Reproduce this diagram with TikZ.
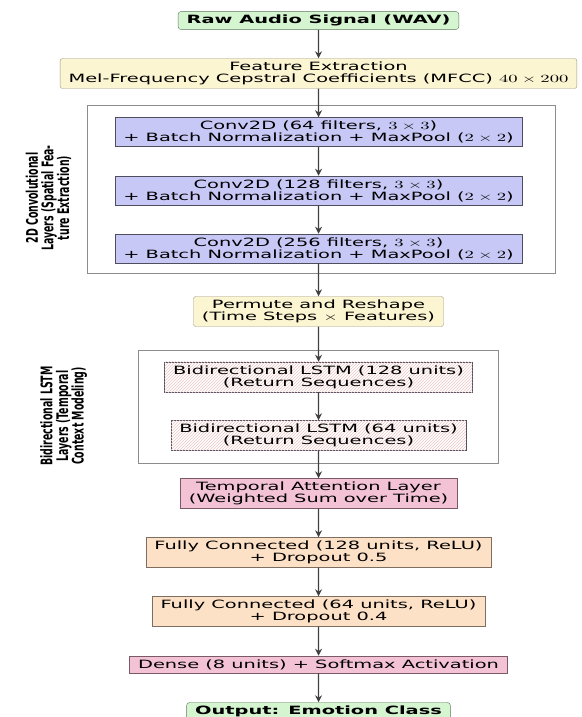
\documentclass[tikz,border=0pt]{standalone}
\usepackage{fontspec}
\setmainfont{DejaVu Sans}
\usetikzlibrary{arrows.meta,patterns}

\definecolor{iofill}{HTML}{D4F5CF}
\definecolor{ioedge}{HTML}{5E7A5E}
\definecolor{prepfill}{HTML}{FCF5D2}
\definecolor{prepedge}{HTML}{9C9A88}
\definecolor{convfill}{HTML}{C8C8F7}
\definecolor{convedge}{HTML}{4E4E5E}
\definecolor{hatchcol}{HTML}{EDC6C6}
\definecolor{attnfill}{HTML}{F3C3D5}
\definecolor{attnedge}{HTML}{7A5A66}
\definecolor{fcfill}{HTML}{FDE1C7}
\definecolor{fcedge}{HTML}{7E6E60}
\definecolor{groupedge}{HTML}{8C8C8C}

\begin{document}
\begin{tikzpicture}[
    x=1pt, y=-1pt, xscale=1.7,
    every node/.style={transform shape, align=center, inner xsep=5pt, inner ysep=3.5pt,
        font=\fontsize{11.4}{12}\selectfont},
    io/.style={draw=ioedge, fill=iofill, rounded corners=3pt, font=\fontsize{11.4}{12}\selectfont\bfseries},
    prep/.style={draw=prepedge, fill=prepfill, rounded corners=2.5pt},
    conv/.style={draw=convedge, fill=convfill},
    lstm/.style={draw=convedge, fill=white, postaction={pattern=north east lines, pattern color=hatchcol}},
    attn/.style={draw=attnedge, fill=attnfill},
    fc/.style={draw=fcedge, fill=fcfill},
    groupbox/.style={draw=groupedge, line width=0.8pt, fill=white, inner sep=0pt},
    grouplabel/.style={rotate=90, inner sep=0pt, font=\fontsize{9.4}{9.2}\selectfont\bfseries},
    arrow/.style={-{Stealth[length=7pt, width=7pt]}, line width=1.3pt, draw=black!75}
]
\useasboundingbox (0,0) rectangle (342.35,717);

% Define the group frames first, so the layers sit on top of them
\node[groupbox, minimum width=275.3pt, minimum height=168pt] (convgroup) at (188.8,189) {};
\node[groupbox, minimum width=211.8pt, minimum height=113pt] (lstmgroup) at (187.1,406.5) {};

\node[grouplabel] (convlabel) at (28.5,198) {2D Convolutional\\Layers (Spatial Fea-\\ture Extraction)};
\node[grouplabel] (lstmlabel) at (37.5,416) {Bidirectional LSTM\\Layers (Temporal\\Context Modeling)};

% Define the layer nodes down the middle
\node[io]   (raw)   at (187.35,20.5)  {Raw Audio Signal (WAV)};
\node[prep] (feat)  at (187.35,73.5)  {Feature Extraction\\Mel-Frequency Cepstral Coefficients (MFCC) $40\times200$};
\node[conv] (conv1) at (187.35,132)   {Conv2D (64 filters, $3\times3$)\\+ Batch Normalization + MaxPool ($2\times2$)};
\node[conv] (conv2) at (187.35,190.5) {Conv2D (128 filters, $3\times3$)\\+ Batch Normalization + MaxPool ($2\times2$)};
\node[conv] (conv3) at (187.35,248.5) {Conv2D (256 filters, $3\times3$)\\+ Batch Normalization + MaxPool ($2\times2$)};
\node[prep] (perm)  at (187.35,311.5) {Permute and Reshape\\(Time Steps $\times$ Features)};
\node[lstm] (lstm1) at (187.35,377)   {Bidirectional LSTM (128 units)\\(Return Sequences)};
\node[lstm] (lstm2) at (187.35,435.5) {Bidirectional LSTM (64 units)\\(Return Sequences)};
\node[attn] (attn)  at (187.35,493.5) {Temporal Attention Layer\\(Weighted Sum over Time)};
\node[fc]   (fc1)   at (187.35,552.5) {Fully Connected (128 units, ReLU)\\+ Dropout 0.5};
\node[fc]   (fc2)   at (187.35,611.5) {Fully Connected (64 units, ReLU)\\+ Dropout 0.4};
\node[attn] (dense) at (187.35,664.5) {Dense (8 units) + Softmax Activation};
\node[io]   (out)   at (187.35,711.5) {Output: Emotion Class};

% Draw arrows
\draw[arrow] (raw) -- (feat);
\draw[arrow] (feat) -- (conv1);
\draw[arrow] (conv1) -- (conv2);
\draw[arrow] (conv2) -- (conv3);
\draw[arrow] (conv3) -- (perm);
\draw[arrow] (perm) -- (lstm1);
\draw[arrow] (lstm1) -- (lstm2);
\draw[arrow] (lstm2) -- (attn);
\draw[arrow] (attn) -- (fc1);
\draw[arrow] (fc1) -- (fc2);
\draw[arrow] (fc2) -- (dense);
\draw[arrow] (dense) -- (out);

\end{tikzpicture}
\end{document}
